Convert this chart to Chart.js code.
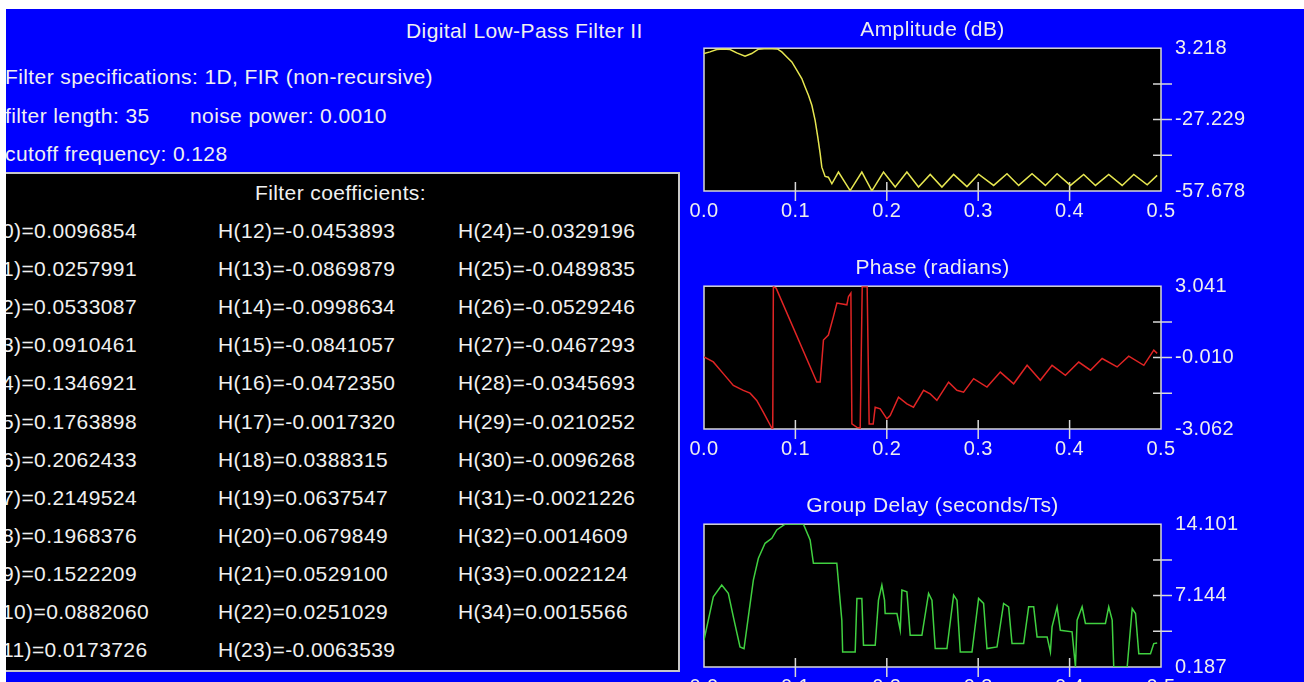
<!DOCTYPE html>
<html>
<head>
<meta charset="utf-8">
<title>Digital Low-Pass Filter II</title>
<script src="https://cdn.jsdelivr.net/npm/chart.js@4.4.1/dist/chart.umd.min.js"></script>
<style>
  html, body { margin: 0; padding: 0; background: #fff; overflow: hidden; width: 1304px; height: 682px; }
  #stage {
    position: absolute; left: 6px; top: 9px; width: 1298px; height: 673px;
    background: #0000ff; overflow: hidden;
    font-family: 'Liberation Sans', Arial, sans-serif; font-size: 21px;
    color: #f0f0f0; letter-spacing: 0.4px;
  }
  .txt { position: absolute; white-space: nowrap; line-height: 24px; }
  #coeffBox {
    position: absolute; left: -2px; top: 163px; width: 672px; height: 496px;
    background: #000; border: 2px solid #c8c8c8;
  }
  canvas { position: absolute; }
</style>
</head>
<body>
<div id="stage">
  <div class="txt" style="left:400px; top:10px;">Digital Low-Pass Filter II</div>
  <div class="txt" style="left:-1px; top:56px;">Filter specifications: 1D, FIR (non-recursive)</div>
  <div class="txt" style="left:-1px; top:95px;">filter length: 35</div>
  <div class="txt" style="left:184px; top:95px;">noise power: 0.0010</div>
  <div class="txt" style="left:-1px; top:133px;">cutoff frequency: 0.128</div>
  <div id="coeffBox"></div>
  <div class="txt" style="left:249px; top:172px;">Filter coefficients:</div>
  <div id="coeffs"></div>

  <canvas id="ampChart" width="624" height="218" style="left:674px; top:4px;"></canvas>
  <canvas id="phaseChart" width="624" height="218" style="left:674px; top:242px;"></canvas>
  <canvas id="delayChart" width="624" height="218" style="left:674px; top:480px;"></canvas>
</div>

<script>
// filter coefficients H(0)..H(34), as printed
const coefficients = [
  '0.0096854', '0.0257991', '0.0533087', '0.0910461', '0.1346921', '0.1763898',
  '0.2062433', '0.2149524', '0.1968376', '0.1522209', '0.0882060', '0.0173726',
  '-0.0453893', '-0.0869879', '-0.0998634', '-0.0841057', '-0.0472350', '-0.0017320',
  '0.0388315', '0.0637547', '0.0679849', '0.0529100', '0.0251029', '-0.0063539',
  '-0.0329196', '-0.0489835', '-0.0529246', '-0.0467293', '-0.0345693', '-0.0210252',
  '-0.0096268', '-0.0021226', '0.0014609', '0.0022124', '0.0015566',
];

// shared frequency axis (normalised frequency)
const freqTicks = [0, 0.1, 0.2, 0.3, 0.4, 0.5];
const freqTickLabels = ['0.0', '0.1', '0.2', '0.3', '0.4', '0.5'];

// amplitude response (dB)
const ampFreq = [0, 0.0066, 0.0139, 0.0212, 0.0285, 0.0358, 0.0449, 0.0522, 0.0595, 0.0687,
  0.0803, 0.0851, 0.0906, 0.0961, 0.1015, 0.107, 0.1106, 0.1143, 0.118, 0.1216, 0.1245,
  0.1271, 0.1289, 0.1325, 0.1361, 0.1399, 0.1471, 0.1599, 0.1727, 0.1837, 0.1964, 0.2092,
  0.222, 0.2347, 0.2475, 0.2603, 0.2731, 0.2877, 0.3004, 0.3169, 0.3315, 0.3443, 0.3589,
  0.3735, 0.3863, 0.4009, 0.4154, 0.4283, 0.4428, 0.4575, 0.4702, 0.4849, 0.4958];
const ampDb = [0.95, 1.64, 2.66, 2.92, 2.66, 1.21, -0.2, 0.95, 2.79, 3.09,
  2.92, 1.64, -0.5, -2.64, -6.18, -9.73, -13.32, -16.87, -21.14, -27.55, -34.68,
  -41.78, -47.5, -51.48, -51.77, -54.6, -49.6, -57.5, -49.6, -57.6, -49.6, -56.0,
  -49.6, -56.0, -50.6, -56.0, -50.6, -55.8, -50.5, -55.3, -50.3, -55.3, -50.3,
  -55.3, -50.3, -55.3, -50.6, -55.3, -50.6, -55.3, -50.6, -55.0, -51.0];
const ampTicks = [-57.678, -42.4535, -27.229, -12.0045, 3.218];
const ampTickLabels = ['-57.678', '', '-27.229', '', '3.218'];

// phase response (radians)
const phaseFreq = [0, 0.0102, 0.0211, 0.0321, 0.043, 0.0504, 0.0577, 0.065, 0.0742, 0.0752,
  0.0759, 0.0789, 0.1234, 0.1271, 0.1307, 0.1361, 0.1416, 0.1454, 0.1563, 0.1581, 0.1607,
  0.1618, 0.1673, 0.1709, 0.1731, 0.1785, 0.1807, 0.1851, 0.1873, 0.1928, 0.2001, 0.2037,
  0.2128, 0.222, 0.2292, 0.2402, 0.2475, 0.2548, 0.2676, 0.2767, 0.284, 0.295, 0.3096,
  0.3242, 0.3388, 0.3535, 0.368, 0.3808, 0.3954, 0.41, 0.4228, 0.4356, 0.452, 0.4647,
  0.4812, 0.4921, 0.4958];
const phaseRad = [0.02, -0.195, -0.695, -1.198, -1.414, -1.53, -1.844, -2.348, -3.019, -3.06,
  3.02, 2.96, -1.056, -1.056, 0.738, 0.953, 1.741, 2.318, 2.245, 2.602, 2.748,
  -2.847, -2.993, -3.019, 3.02, 3.02, -2.847, -2.847, -2.13, -2.2, -2.63, -2.49,
  -1.7, -1.99, -2.13, -1.41, -1.56, -1.84, -1.06, -1.41, -1.49, -0.91, -1.27,
  -0.63, -1.13, -0.34, -0.98, -0.34, -0.77, -0.2, -0.55, -0.05, -0.41, 0.05,
  -0.34, 0.31, 0.17];
const phaseTicks = [-3.062, -1.536, -0.010, 1.5155, 3.041];
const phaseTickLabels = ['-3.062', '', '-0.010', '', '3.041'];

// group delay (seconds/Ts)
const delayFreq = [0, 0.0047, 0.0102, 0.0194, 0.0266, 0.0321, 0.0394, 0.0438, 0.0485, 0.054,
  0.0595, 0.0668, 0.0742, 0.0796, 0.0887, 0.1088, 0.1161, 0.1197, 0.1453, 0.1508, 0.1517,
  0.1654, 0.1673, 0.1727, 0.1745, 0.1873, 0.1909, 0.1946, 0.1975, 0.1982, 0.2111, 0.2147,
  0.2165, 0.222, 0.2256, 0.2384, 0.2457, 0.2494, 0.253, 0.2658, 0.2731, 0.2768, 0.2804,
  0.2932, 0.3004, 0.3059, 0.3096, 0.3206, 0.3278, 0.3333, 0.337, 0.3497, 0.3552, 0.3607,
  0.3644, 0.3754, 0.379, 0.3808, 0.3863, 0.3899, 0.4027, 0.4064, 0.4082, 0.4137, 0.4173,
  0.4392, 0.4428, 0.4466, 0.4483, 0.463, 0.4685, 0.4721, 0.4757, 0.4885, 0.4921, 0.4958];
const delaySamples = [2.8, 4.75, 7.03, 8.17, 7.36, 5.07, 2.14, 1.98, 5.07, 8.66,
  10.78, 12.24, 12.73, 13.54, 14.1, 14.1, 12.57, 10.29, 10.29, 4.75, 1.65,
  1.65, 6.87, 6.87, 2.31, 2.31, 6.7, 8.17, 6.7, 5.4, 5.4, 3.77,
  7.68, 7.51, 3.28, 3.28, 7.36, 6.7, 1.98, 1.98, 7.19, 6.7, 1.65,
  1.65, 6.87, 6.38, 1.98, 2.14, 6.38, 6.05, 2.47, 2.47, 6.05, 6.05,
  3.12, 3.12, 1.65, 4.1, 6.05, 3.77, 3.61, 0.19, 4.75, 6.05, 4.43,
  4.43, 6.05, 4.75, 0.19, 0.19, 5.89, 5.4, 1.49, 1.49, 2.47, 2.53];
const delayTicks = [0.187, 3.6655, 7.144, 10.6225, 14.101];
const delayTickLabels = ['0.187', '', '7.144', '', '14.101'];

const textColor = '#eeeeee';
const frameColor = '#d8d8d8';

// write the coefficient table, 12 rows x 3 columns
const coeffHolder = document.getElementById('coeffs');
const colLeft = [-27, 212, 452];
coefficients.forEach((value, i) => {
  const div = document.createElement('div');
  div.className = 'txt';
  div.style.left = colLeft[Math.floor(i / 12)] + 'px';
  div.style.top = (210 + (i % 12) * 38.1) + 'px';
  div.textContent = 'H(' + i + ')=' + value;
  coeffHolder.appendChild(div);
});

// black plot box, white frame and the little tick marks crossing it
const framePlugin = {
  id: 'frame',
  beforeDatasetsDraw(chart) {
    const { ctx, chartArea: a } = chart;
    const { x, y } = chart.scales;
    ctx.save();
    ctx.fillStyle = '#000';
    ctx.fillRect(a.left, a.top, a.width, a.height);
    ctx.strokeStyle = frameColor;
    ctx.lineWidth = 1.5;
    ctx.strokeRect(a.left, a.top, a.width, a.height);
    ctx.beginPath();
    x.ticks.slice(1, -1).forEach((t) => {
      const px = x.getPixelForValue(t.value);
      ctx.moveTo(px, a.bottom - 9);
      ctx.lineTo(px, a.bottom + 10);
    });
    y.ticks.slice(1, -1).forEach((t) => {
      const py = y.getPixelForValue(t.value);
      ctx.moveTo(a.right - 8, py);
      ctx.lineTo(a.right + 11, py);
    });
    ctx.stroke();
    ctx.restore();
  },
};

Chart.defaults.font.family = "'Liberation Sans', Arial, sans-serif";
Chart.defaults.color = textColor;

const makePanel = (canvasId, title, freqs, values, yTicks, yLabels, color) => {
  const points = freqs.map((f, i) => ({ x: f, y: values[i] }));
  // eslint-disable-next-line no-new
  new Chart(document.getElementById(canvasId), {
    type: 'line',
    data: {
      datasets: [{
        data: points,
        borderColor: color,
        borderWidth: 1.5,
        pointRadius: 0,
        tension: 0,
      }],
    },
    options: {
      responsive: false,
      animation: false,
      layout: { padding: { left: 24, top: 0, right: 0, bottom: 0 } },
      plugins: {
        legend: { display: false },
        tooltip: { enabled: false },
        title: {
          display: true,
          text: title,
          color: textColor,
          fullSize: false,
          font: { size: 21, weight: 'normal', lineHeight: 1.2 },
          padding: { top: 5, bottom: 5 },
        },
      },
      scales: {
        x: {
          type: 'linear',
          min: 0,
          max: 0.5,
          grid: { display: false, drawTicks: false },
          border: { display: false },
          afterBuildTicks: (scale) => { scale.ticks = freqTicks.map((v) => ({ value: v })); },
          afterFit: (scale) => { scale.height = 40; },
          ticks: {
            autoSkip: false,
            maxRotation: 0,
            padding: 8,
            labelOffset: 0,
            color: textColor,
            font: { size: 20 },
            callback: (v, i) => freqTickLabels[i],
          },
        },
        y: {
          position: 'right',
          min: yTicks[0],
          max: yTicks[yTicks.length - 1],
          grid: { display: false, drawTicks: false },
          border: { display: false },
          afterBuildTicks: (scale) => { scale.ticks = yTicks.map((v) => ({ value: v })); },
          afterFit: (scale) => { scale.width = 143; },
          ticks: {
            autoSkip: false,
            padding: 14,
            color: textColor,
            font: { size: 20 },
            callback: (v, i) => yLabels[i],
          },
        },
      },
    },
    plugins: [framePlugin],
  });
};

makePanel('ampChart', 'Amplitude (dB)', ampFreq, ampDb, ampTicks, ampTickLabels, '#e6e650');
makePanel('phaseChart', 'Phase (radians)', phaseFreq, phaseRad, phaseTicks, phaseTickLabels, '#e02424');
makePanel('delayChart', 'Group Delay (seconds/Ts)', delayFreq, delaySamples, delayTicks, delayTickLabels, '#40d040');
</script>
</body>
</html>
